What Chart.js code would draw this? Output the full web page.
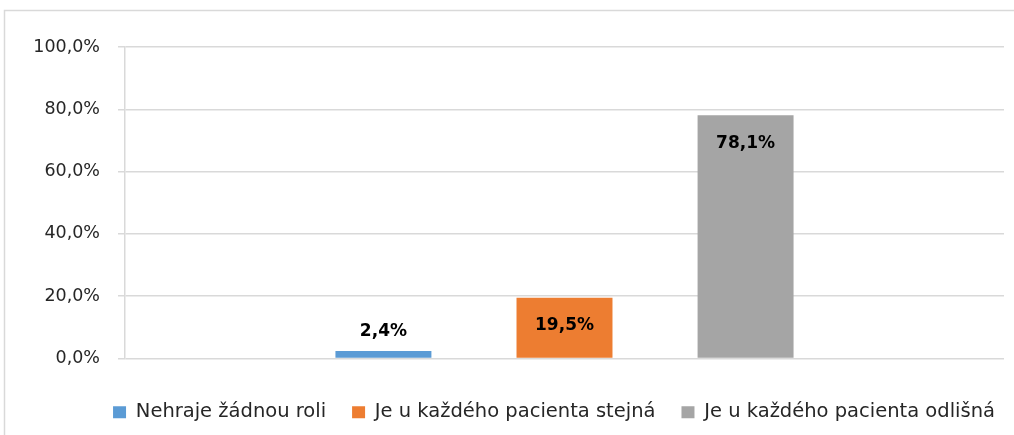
<!DOCTYPE html>
<html>
<head>
<meta charset="utf-8">
<script src="https://cdn.jsdelivr.net/npm/chart.js@4"></script>
<style>
  body { margin: 0; background: #fff; }
  #wrap { width: 1014px; height: 435px; }
</style>
</head>
<body>
<div id="wrap"><canvas id="myChart" width="1014" height="435"></canvas></div>
<script>
// Data
const categories = [''];
const seriesNames = ['Nehraje žádnou roli', 'Je u každého pacienta stejná', 'Je u každého pacienta odlišná'];
const seriesValues = [2.4, 19.5, 78.1];
const seriesColors = ['#5B9BD5', '#ED7D31', '#A5A5A5'];
const yTicks = [0, 20, 40, 60, 80, 100];

const FONT = 'DejaVu Sans';
const GRID = '#d9d9d9';

function fmtPct(v) {
    return v.toFixed(1).replace('.', ',') + '%';
}

// Light frame around the chart (only left and top edges are visible)
const framePlugin = {
    id: 'frame',
    beforeDraw(chart) {
        const ctx = chart.ctx;
        ctx.save();
        ctx.strokeStyle = GRID;
        ctx.lineWidth = 1.5;
        ctx.beginPath();
        ctx.moveTo(4.5, chart.height);
        ctx.lineTo(4.5, 10.5);
        ctx.lineTo(chart.width, 10.5);
        ctx.stroke();
        ctx.restore();
    }
};

// The legend sits a bit right of the canvas centre
const legendShift = {
    id: 'legendShift',
    afterLayout(chart) {
        if (chart.legend) {
            chart.legend.left += 52;
            chart.legend.right += 52;
        }
    }
};

// Value labels: inside the top of the bar, or above it when the bar is too short
const valueLabels = {
    id: 'valueLabels',
    afterDatasetsDraw(chart) {
        const ctx = chart.ctx;
        ctx.save();
        ctx.font = 'bold 17px "' + FONT + '"';
        ctx.fillStyle = '#000';
        ctx.textAlign = 'center';
        ctx.textBaseline = 'middle';
        chart.data.datasets.forEach((ds, i) => {
            const meta = chart.getDatasetMeta(i);
            meta.data.forEach((bar, j) => {
                const h = bar.base - bar.y;
                const y = h > 45 ? bar.y + 28 : bar.y - 19;
                ctx.fillText(fmtPct(ds.data[j]), bar.x, y);
            });
        });
        ctx.restore();
    }
};

const datasets = seriesNames.map((name, i) => ({
    label: name,
    data: [seriesValues[i]],
    backgroundColor: seriesColors[i],
    borderWidth: 0,
    categoryPercentage: 0.618,
    barPercentage: 0.53
}));

const ctx = document.getElementById('myChart').getContext('2d');
new Chart(ctx, {
    type: 'bar',
    data: { labels: categories, datasets },
    options: {
        responsive: false,
        devicePixelRatio: 1,
        animation: false,
        layout: { padding: { left: 0, right: 10, top: 47, bottom: 3 } },
        plugins: {
            tooltip: { enabled: false },
            legend: {
                position: 'bottom',
                labels: {
                    boxWidth: 13,
                    boxHeight: 12,
                    padding: 26,
                    color: '#262626',
                    font: { family: FONT, size: 19.5 }
                }
            }
        },
        scales: {
            x: {
                grid: { display: false },
                border: { display: false },
                ticks: { display: false },
                afterFit(scale) { scale.height = 18; }
            },
            y: {
                min: 0,
                max: 100,
                afterFit(scale) { scale.width = 125; },
                afterBuildTicks(scale) { scale.ticks = yTicks.map(v => ({ value: v })); },
                grid: { color: GRID, lineWidth: 1.5, tickLength: 7 },
                border: { display: true, color: GRID, width: 1.5 },
                ticks: {
                    padding: 18,
                    color: '#262626',
                    font: { family: FONT, size: 17.5 },
                    callback: v => fmtPct(v)
                }
            }
        }
    },
    plugins: [framePlugin, legendShift, valueLabels]
});
</script>
</body>
</html>
